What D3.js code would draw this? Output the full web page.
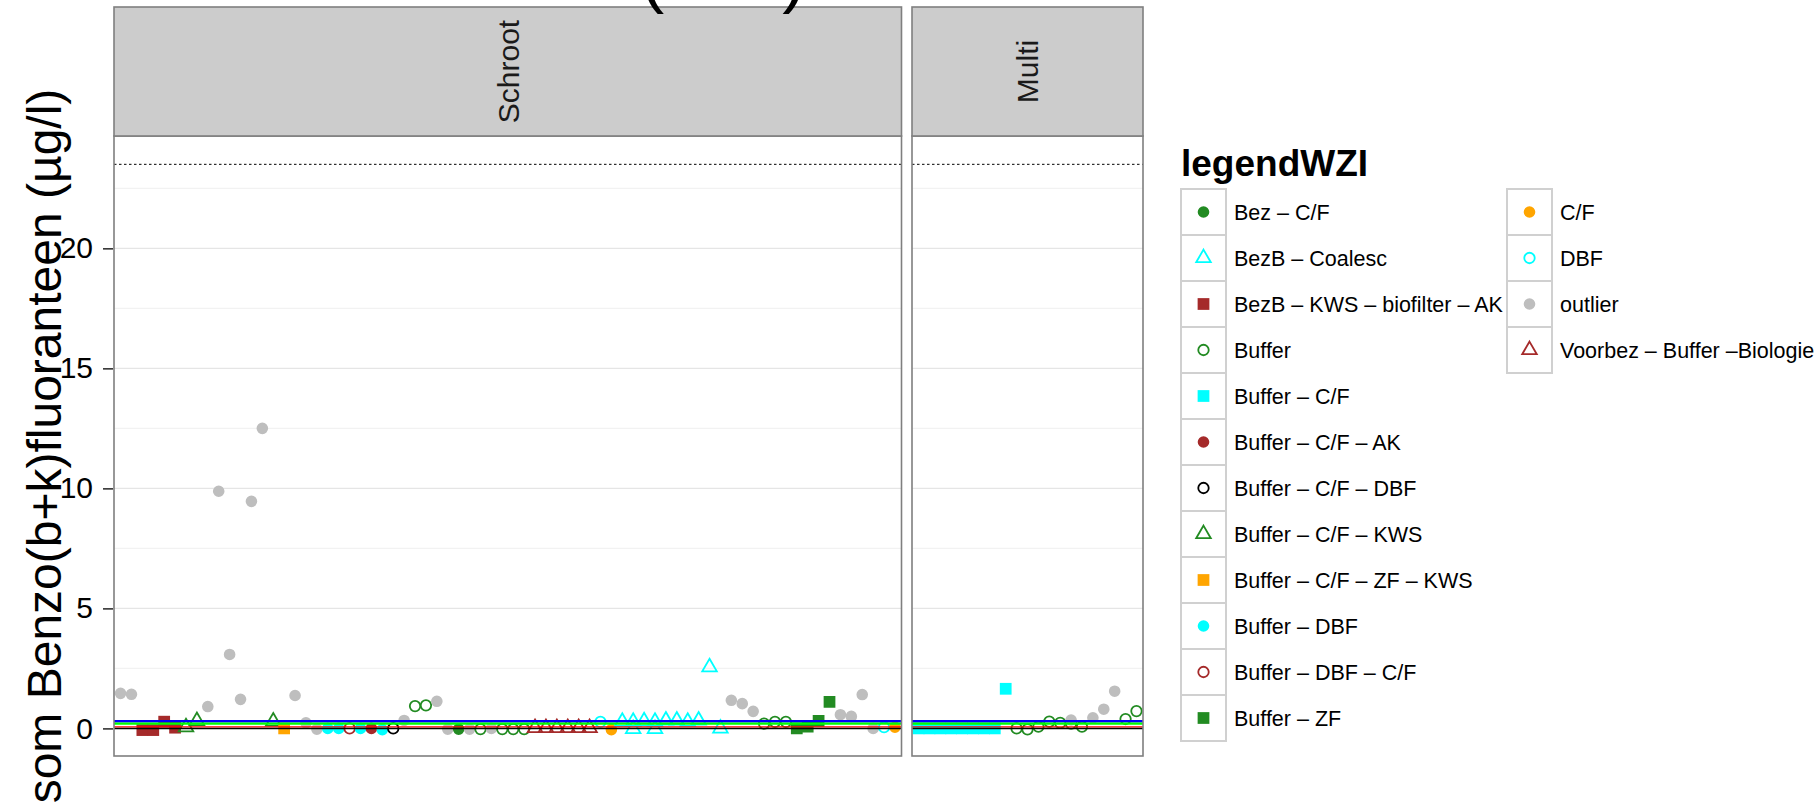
<!DOCTYPE html>
<html>
<head>
<meta charset="utf-8">
<script src="https://cdn.jsdelivr.net/npm/d3@7"></script>
<style>
  body { margin: 0; background: #fff; }
  text { font-family: "Liberation Sans", Arial, Helvetica, sans-serif; }
</style>
</head>
<body>
<script>
// Groepen (legende) en de meetwaarden per paneel
const groups = [
  "Bez – C/F", "BezB – Coalesc", "BezB – KWS – biofilter – AK", "Buffer",
  "Buffer – C/F", "Buffer – C/F – AK", "Buffer – C/F – DBF", "Buffer – C/F – KWS",
  "Buffer – C/F – ZF – KWS", "Buffer – DBF", "Buffer – DBF – C/F", "Buffer – ZF",
  "C/F", "DBF", "outlier", "Voorbez – Buffer –Biologie"
];
const panels = ["Schroot", "Multi"];
const schrootSiteCount = 72;
const multiSiteCount = 21;

// Schroot: positie, groep, waarde
const schrootSite  = [0, 1, 2, 3, 4, 5, 6, 7, 8, 9, 10, 11, 12, 13, 14, 15, 16, 17, 18, 19,
  20, 21, 22, 23, 24, 25, 26, 27, 28, 29, 30, 31, 32, 33, 34, 35, 36, 37, 38, 39,
  40, 41, 42, 43, 44, 45, 46, 47, 47, 48, 49, 49, 50, 51, 52, 53, 54, 55, 56, 57,
  58, 59, 60, 61, 62, 63, 64, 65, 66, 67, 68, 69, 70, 71];
const schrootGroup = [14, 14, 2, 2, 2, 2, 7, 7, 14, 14, 14, 14, 14, 14, 7, 8, 14, 14, 14, 9,
  9, 10, 9, 5, 9, 6, 14, 3, 3, 14, 14, 0, 14, 3, 14, 3, 3, 3, 15, 15,
  15, 15, 15, 15, 13, 12, 1, 1, 1, 1, 1, 1, 1, 1, 1, 1, 1, 1, 14, 14,
  14, 3, 3, 3, 11, 11, 11, 11, 14, 14, 14, 14, 13, 12];
const schrootValue = [1.46, 1.42, -0.07, -0.07, 0.28, 0.03, 0.05, 0.31, 0.91, 9.88, 3.08, 1.21, 9.46, 12.5, 0.29, 0.0, 1.37, 0.23, -0.03, 0.0,
  0.0, 0.0, 0.0, 0.0, -0.05, 0.0, 0.33, 0.93, 0.96, 1.13, -0.03, -0.03, -0.03, -0.03, 0.0, -0.03, -0.03, -0.03, 0.02, 0.02,
  0.02, 0.02, 0.02, 0.02, 0.27, -0.05, 0.28, 0.28, -0.02, 0.3, 0.28, -0.02, 0.33, 0.33, 0.28, 0.33, 2.55, 0.0, 1.17, 1.03,
  0.71, 0.2, 0.27, 0.27, 0.0, 0.07, 0.31, 1.1, 0.57, 0.5, 1.41, 0.0, 0.05, 0.05];

// Multi: positie, groep, waarde
const multiSite  = [0, 1, 2, 3, 4, 5, 6, 7, 8, 9, 10, 11, 12, 13, 14, 14, 15, 16, 17, 18, 19, 20];
const multiGroup = [4, 4, 4, 4, 4, 4, 4, 4, 4, 3, 3, 3, 3, 3, 3, 14, 3, 14, 14, 14, 3, 3];
const multiValue = [0.0, 0.0, 0.0, 0.0, 0.0, 0.0, 0.0, 0.0, 1.65, 0.0, -0.04, 0.07, 0.28, 0.23, 0.2, 0.35, 0.07, 0.44, 0.8, 1.55, 0.39, 0.72];

// Referentielijnen
const refValues = [0.3, 0.2, 0.06, 0];
const normValue = 23.5;
const yTicks = [0, 5, 10, 15, 20];
const yMinor = [2.5, 7.5, 12.5, 17.5, 22.5];

// Stijlen
const groupColor = ["#228B22", "#00FFFF", "#A52A2A", "#228B22", "#00FFFF", "#A52A2A", "#000000", "#228B22",
  "#FFA500", "#00FFFF", "#A52A2A", "#228B22", "#FFA500", "#00FFFF", "#BEBEBE", "#A52A2A"];
const groupShape = ["dot", "tri", "sq", "ring", "sq", "dot", "ring", "tri",
  "sq", "dot", "ring", "sq", "dot", "ring", "dot", "tri"];
const refColor = ["#0000FF", "#00FF00", "#FF0000", "#000000"];
const refWidth = [2.6, 2.2, 1.3, 1.5];

const width = 1816, height = 802;
const plotTop = 136, plotBottom = 756;
const panelX = [[114, 901.5], [912, 1143]];

const svg = d3.select("body").append("svg")
  .attr("width", width).attr("height", height)
  .style("display", "block");

svg.append("rect").attr("width", width).attr("height", height).attr("fill", "#fff");

const y = d3.scaleLinear().domain([-1.15, 24.68]).range([plotBottom, plotTop]);

const xScales = [
  d3.scalePoint().domain(d3.range(schrootSiteCount)).range(panelX[0]).padding(0.6),
  d3.scalePoint().domain(d3.range(multiSiteCount)).range(panelX[1]).padding(0.6)
];

const symbolGen = {
  dot: d3.symbol().type(d3.symbolCircle).size(106),
  ring: d3.symbol().type(d3.symbolCircle).size(86),
  sq: d3.symbol().type(d3.symbolSquare).size(138),
  tri: d3.symbol().type(d3.symbolTriangle).size(92)
};

function drawSymbol(sel, g) {
  const shape = groupShape[g];
  const open = shape === "ring" || shape === "tri";
  sel.attr("d", symbolGen[shape]())
    .attr("fill", open ? "none" : groupColor[g])
    .attr("stroke", open ? groupColor[g] : "none")
    .attr("stroke-width", open ? 1.8 : 0);
}

const panelData = [
  schrootSite.map((s, i) => ({ site: s, group: schrootGroup[i], value: schrootValue[i] })),
  multiSite.map((s, i) => ({ site: s, group: multiGroup[i], value: multiValue[i] }))
];

panels.forEach(function(name, p) {
  const [x0, x1] = panelX[p];
  const g = svg.append("g");
  const clipId = "clip" + p;
  svg.append("clipPath").attr("id", clipId)
    .append("rect").attr("x", x0).attr("y", plotTop).attr("width", x1 - x0).attr("height", plotBottom - plotTop);

  // rasterlijnen
  g.selectAll(".minor").data(yMinor).enter().append("line")
    .attr("x1", x0).attr("x2", x1).attr("y1", d => y(d)).attr("y2", d => y(d))
    .attr("stroke", "#F2F2F2").attr("stroke-width", 1.2);
  g.selectAll(".major").data(yTicks).enter().append("line")
    .attr("x1", x0).attr("x2", x1).attr("y1", d => y(d)).attr("y2", d => y(d))
    .attr("stroke", "#E5E5E5").attr("stroke-width", 1.2);

  // norm (stippellijn)
  g.append("line")
    .attr("x1", x0).attr("x2", x1).attr("y1", y(normValue)).attr("y2", y(normValue))
    .attr("stroke", "#000").attr("stroke-width", 1).attr("stroke-dasharray", "2.5,2.5");

  // punten
  const pts = g.append("g").attr("clip-path", "url(#" + clipId + ")");
  pts.selectAll("path").data(panelData[p]).enter().append("path")
    .attr("transform", d => "translate(" + xScales[p](d.site) + "," + y(d.value) + ")")
    .each(function(d) { drawSymbol(d3.select(this), d.group); });

  // referentielijnen
  g.selectAll(".ref").data(refValues).enter().append("line")
    .attr("x1", x0).attr("x2", x1).attr("y1", d => y(d)).attr("y2", d => y(d))
    .attr("stroke", (d, i) => refColor[i]).attr("stroke-width", (d, i) => refWidth[i]);

  // paneelrand
  g.append("rect").attr("x", x0).attr("y", plotTop).attr("width", x1 - x0).attr("height", plotBottom - plotTop)
    .attr("fill", "none").attr("stroke", "#7F7F7F").attr("stroke-width", 1.6);

  // strip
  g.append("rect").attr("x", x0).attr("y", 7).attr("width", x1 - x0).attr("height", plotTop - 7)
    .attr("fill", "#CCCCCC").attr("stroke", "#7F7F7F").attr("stroke-width", 1.6);
  g.append("text")
    .attr("transform", "translate(" + ((x0 + x1) / 2) + "," + ((7 + plotTop) / 2) + ") rotate(-90)")
    .attr("text-anchor", "middle").attr("dy", "0.36em")
    .attr("font-size", 30).attr("fill", "#1a1a1a")
    .text(name);
});

// y-as
const yAxis = svg.append("g").attr("transform", "translate(113,0)")
  .call(d3.axisLeft(y).tickValues(yTicks).tickSize(10).tickPadding(10));
yAxis.select(".domain").remove();
yAxis.selectAll(".tick line").attr("stroke", "#333").attr("stroke-width", 1.6);
yAxis.selectAll(".tick text").attr("font-size", 30).attr("fill", "#000")
  .style("font-family", "'Liberation Sans', Arial, sans-serif");

svg.append("text")
  .attr("transform", "translate(44," + ((plotTop + plotBottom) / 2) + ") rotate(-90)")
  .attr("text-anchor", "middle").attr("dy", "0.36em")
  .attr("font-size", 48).attr("fill", "#000")
  .text("som Benzo(b+k)fluoranteen (µg/l)");

// titel (valt grotendeels buiten beeld, alleen de haakjes steken uit)
svg.append("text")
  .attr("x", 436).attr("y", -1.5)
  .attr("font-size", 72).attr("fill", "#000")
  .text("Benzo(b+k)fluoranteen");

// legende
const legend = svg.append("g");
legend.append("text").attr("x", 1181).attr("y", 176)
  .attr("font-size", 37).attr("font-weight", "bold").attr("fill", "#000")
  .text("legendWZI");

const rowH = 46, keyW = 45, legTop = 189;
const colX = [1181, 1507];
groups.forEach(function(name, i) {
  const col = i < 12 ? 0 : 1;
  const row = i < 12 ? i : i - 12;
  const kx = colX[col], ky = legTop + row * rowH;
  const k = legend.append("g");
  k.append("rect").attr("x", kx).attr("y", ky).attr("width", keyW).attr("height", rowH)
    .attr("fill", "#fff").attr("stroke", "#D0D0D0").attr("stroke-width", 2);
  k.append("path")
    .attr("transform", "translate(" + (kx + keyW / 2) + "," + (ky + rowH / 2) + ")")
    .call(drawSymbol, i);
  k.append("text").attr("x", kx + keyW + 8).attr("y", ky + rowH / 2).attr("dy", "0.36em")
    .attr("font-size", 21.5).attr("fill", "#000").text(name);
});
</script>
</body>
</html>
